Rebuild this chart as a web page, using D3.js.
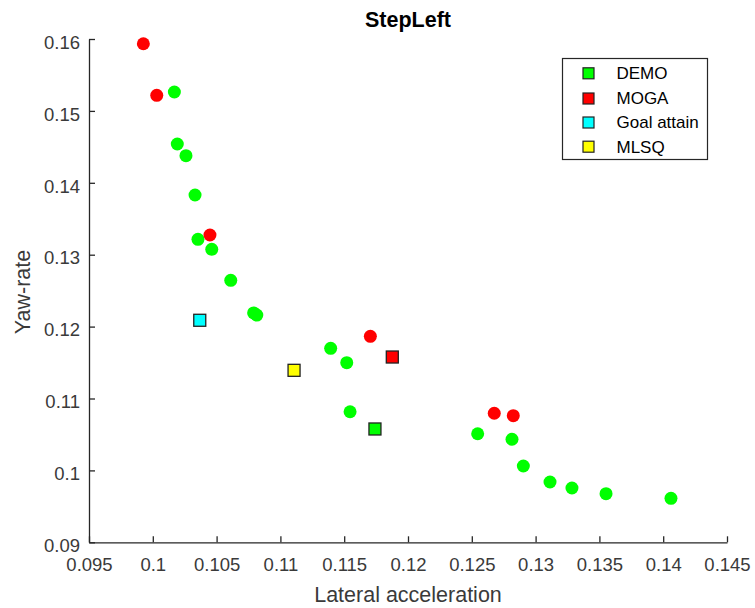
<!DOCTYPE html>
<html>
<head>
<meta charset="utf-8">
<script src="https://cdn.jsdelivr.net/npm/d3@7"></script>
<style>
  body { margin: 0; background: #fff; }
  svg { display: block; font-family: "Liberation Sans", Arial, sans-serif; }
</style>
</head>
<body>
<svg id="chart" width="755" height="608"></svg>
<script>
// ---- data ----
const chartTitle = "StepLeft";
const xLabel = "Lateral acceleration";
const yLabel = "Yaw-rate";
const xTicks = [0.095, 0.1, 0.105, 0.11, 0.115, 0.12, 0.125, 0.13, 0.135, 0.14, 0.145];
const yTicks = [0.09, 0.1, 0.11, 0.12, 0.13, 0.14, 0.15, 0.16];

// DEMO Pareto points (circles)
const demoX = [0.10169, 0.10192, 0.10260, 0.10331, 0.10354, 0.10462, 0.10611, 0.10790, 0.10815,
               0.11394, 0.11520, 0.11546, 0.12546, 0.12815, 0.12904, 0.13113, 0.13285, 0.13552, 0.14061];
const demoY = [0.15263, 0.14540, 0.14377, 0.13830, 0.13214, 0.13075, 0.12644, 0.12190, 0.12160,
               0.11698, 0.11498, 0.10816, 0.10510, 0.10433, 0.10061, 0.09839, 0.09755, 0.09676, 0.09612];
// MOGA Pareto points (circles)
const mogaX = [0.09926, 0.10031, 0.10448, 0.11705, 0.12676, 0.12825];
const mogaY = [0.15934, 0.15217, 0.13274, 0.11865, 0.10795, 0.10761];

// Selected solutions (squares)
const selNames = ["DEMO", "MOGA", "Goal attain", "MLSQ"];
const selX = [0.11741, 0.11877, 0.10368, 0.11107];
const selY = [0.10576, 0.11577, 0.12088, 0.11392];
const colors = ["#00ff00", "#ff0000", "#00ffff", "#ffff00"];

// ---- layout ----
const svg = d3.select("#chart");
const mLeft = 89, mRight = 727, mTop = 39, mBottom = 542.3;
const textColor = "#3a3a3a";
const axisColor = "#262626";

const x = d3.scaleLinear().domain([0.095, 0.145]).range([mLeft, mRight]);
const y = d3.scaleLinear().domain([0.09, 0.16]).range([mBottom, mTop]);

const fmt = d => String(+d.toFixed(3));

// x axis
const gx = svg.append("g")
  .attr("transform", `translate(0,${mBottom})`)
  .call(d3.axisBottom(x).tickValues(xTicks).tickFormat(fmt)
        .tickSizeInner(-6).tickSizeOuter(0).tickPadding(16));
// y axis
const gy = svg.append("g")
  .attr("transform", `translate(${mLeft},0)`)
  .call(d3.axisLeft(y).tickValues(yTicks).tickFormat(fmt)
        .tickSizeInner(-6).tickSizeOuter(0).tickPadding(9));

[gx, gy].forEach(g => {
  g.select(".domain").attr("stroke", axisColor).attr("stroke-width", 1.3);
  g.selectAll(".tick line").attr("stroke", axisColor).attr("stroke-width", 1.3);
  g.selectAll(".tick text").attr("fill", textColor)
    .style("font-size", "18.5px").style("font-family", "'Liberation Sans', Arial, sans-serif");
});
gy.selectAll(".tick text").attr("dy", "0.5em");

// title and labels
svg.append("text").attr("x", 408).attr("y", 27).attr("text-anchor", "middle")
  .style("font-size", "21.5px").style("font-weight", "bold").attr("fill", "#000")
  .text(chartTitle);
svg.append("text").attr("x", 408).attr("y", 602).attr("text-anchor", "middle")
  .style("font-size", "21.5px").attr("fill", textColor).text(xLabel);
svg.append("text").attr("transform", "translate(30,292) rotate(-90)").attr("text-anchor", "middle")
  .style("font-size", "21.5px").attr("fill", textColor).text(yLabel);

// points
svg.append("g").selectAll("circle").data(demoX.map((d, i) => [d, demoY[i]])).join("circle")
  .attr("cx", d => x(d[0])).attr("cy", d => y(d[1])).attr("r", 6.5).attr("fill", colors[0]);
svg.append("g").selectAll("circle").data(mogaX.map((d, i) => [d, mogaY[i]])).join("circle")
  .attr("cx", d => x(d[0])).attr("cy", d => y(d[1])).attr("r", 6.5).attr("fill", colors[1]);

const sq = 12;
svg.append("g").selectAll("rect").data(selX.map((d, i) => [d, selY[i], colors[i]])).join("rect")
  .attr("x", d => x(d[0]) - sq / 2).attr("y", d => y(d[1]) - sq / 2)
  .attr("width", sq).attr("height", sq)
  .attr("fill", d => d[2]).attr("stroke", "#222").attr("stroke-width", 1.3);

// legend
const lg = svg.append("g");
lg.append("rect").attr("x", 562.5).attr("y", 58.5).attr("width", 145).attr("height", 101)
  .attr("fill", "#fff").attr("stroke", axisColor).attr("stroke-width", 1.2);
const rowY = [73.3, 98.5, 122.5, 146.7];
selNames.forEach((name, i) => {
  lg.append("rect").attr("x", 588.5 - 5.5).attr("y", rowY[i] - 5.5).attr("width", 11).attr("height", 11)
    .attr("fill", colors[i]).attr("stroke", "#222").attr("stroke-width", 1.2);
  lg.append("text").attr("x", 616.5).attr("y", rowY[i]).attr("dy", "0.35em")
    .style("font-size", "17px").attr("fill", "#000").text(name);
});
</script>
</body>
</html>
